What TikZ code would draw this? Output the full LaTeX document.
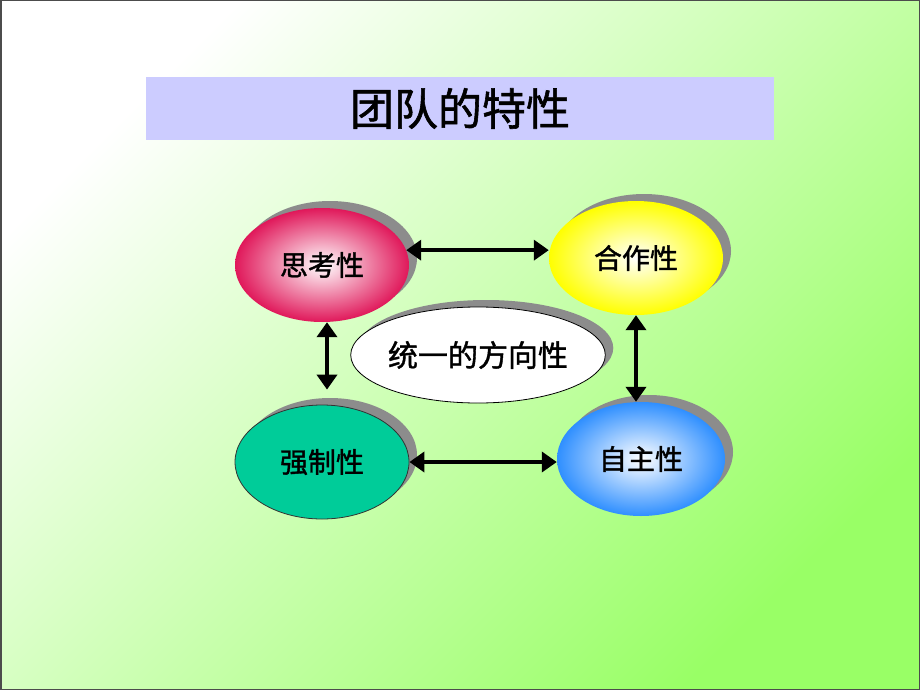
\documentclass[tikz,border=0pt]{standalone}
\usepackage{fontspec}
\newfontfamily\cjk[FakeBold=1.3]{Noto Sans CJK SC}
\usetikzlibrary{arrows.meta,shadows,shapes.geometric}

\definecolor{bggreen}{HTML}{99FF66}
\definecolor{lavender}{HTML}{CCCCFF}
\definecolor{rosered}{HTML}{E0185A}
\definecolor{teal}{HTML}{00CC99}
\definecolor{skyblue}{HTML}{2F8FFF}

\begin{document}
\begin{tikzpicture}[x=1pt,y=-1pt,
    trait/.style={ellipse,inner sep=0pt,minimum width=174pt,minimum height=114pt,
      font=\cjk\fontsize{28}{28}\selectfont,
      drop shadow={shadow xshift=8pt,shadow yshift=7pt,fill=gray!90,opacity=1}},
    twoway/.style={{Triangle[length=15pt,width=20pt]}-{Triangle[length=15pt,width=20pt]},
      line width=4.5pt}]
  \useasboundingbox (0,0) rectangle (920,690);
  \shade[top color=white,bottom color=bggreen,shading angle=45] (0,0) rectangle (920,690);
  \draw[gray!60!black,line width=1.5pt] (0.75,0.75) rectangle (919.25,689.25);

  \node[fill=lavender,minimum width=628pt,minimum height=63pt,
    font=\cjk\fontsize{44}{44}\selectfont] (title) at (460,108.5) {团队的特性};

  \node[trait,inner color=white,outer color=rosered] (think) at (322,265) {思考性};
  \node[trait,inner color=white,outer color=yellow] (coop) at (636,258) {合作性};
  \node[trait,fill=teal,draw=black!80,line width=0.8pt] (force) at (322,462) {强制性};
  \node[trait,inner color=white,outer color=skyblue,minimum width=168pt] (self) at (641,459) {自主性};
  \node[trait,fill=white,draw=black,line width=0.8pt,minimum width=252pt,minimum height=96pt,
    font=\cjk\fontsize{30}{30}\selectfont] (unity) at (478,355) {统一的方向性};

  \draw[twoway] (think.10) -- (coop.west |- think.10);
  \draw[twoway] (force.east) -- (self.west |- force.east);
  \draw[twoway] ([xshift=5pt]think.south) -- ([xshift=5pt,yshift=15pt]force.north);
  \draw[twoway] (coop.south) -- (coop.south |- self.north);
\end{tikzpicture}
\end{document}
